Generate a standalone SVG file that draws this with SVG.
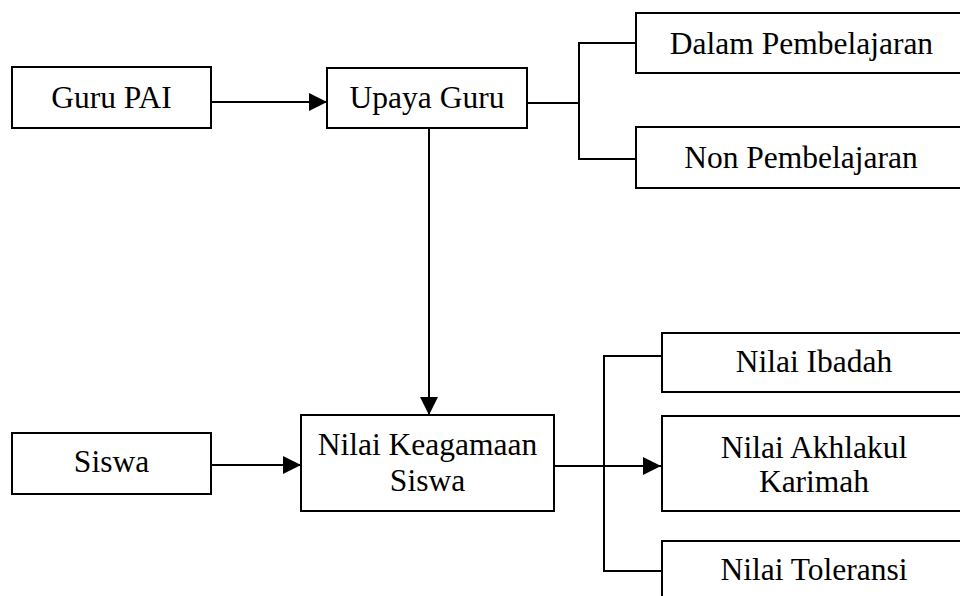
<svg xmlns="http://www.w3.org/2000/svg" width="960" height="596" viewBox="0 0 960 596">
<style>
.box{fill:#fff;stroke:#000;stroke-width:2}
.t{font-family:'Liberation Serif', 'Times New Roman', serif;font-size:31.5px;fill:#000;text-anchor:middle}
.c{fill:none;stroke:#000;stroke-width:2}
</style>
<defs>
<marker id="ah" markerUnits="userSpaceOnUse" markerWidth="18" markerHeight="18" viewBox="0 0 16 16" refX="16" refY="8" orient="auto">
<path d="M0,0 L16,8 L0,16 Z" fill="#000"/>
</marker>
</defs>
<rect width="960" height="596" fill="#fff"/>
<g id="connectors">
<line class="c" x1="211" y1="102" x2="327" y2="102" marker-end="url(#ah)"/>
<polyline class="c" points="527,103 579,103"/>
<polyline class="c" points="636,43 579,43 579,159 636,159"/>
<line class="c" x1="429" y1="128" x2="429" y2="415" marker-end="url(#ah)"/>
<line class="c" x1="211" y1="465" x2="301" y2="465" marker-end="url(#ah)"/>
<line class="c" x1="554" y1="466" x2="661" y2="466" marker-end="url(#ah)"/>
<polyline class="c" points="662,356 604,356 604,571 662,571"/>
</g>
<g id="guru-pai"><rect class="box" x="12" y="67" width="199" height="61"/><text class="t" x="111.5" y="108">Guru PAI</text></g>
<g id="upaya-guru"><rect class="box" x="327" y="68" width="200" height="60"/><text class="t" x="427" y="108">Upaya Guru</text></g>
<g id="dalam"><rect class="box" x="636" y="13" width="332" height="60"/><text class="t" x="801.5" y="54">Dalam Pembelajaran</text></g>
<g id="non"><rect class="box" x="636" y="127" width="332" height="61"/><text class="t" x="801" y="168">Non Pembelajaran</text></g>
<g id="siswa"><rect class="box" x="12" y="433" width="199" height="61"/><text class="t" x="111.5" y="472">Siswa</text></g>
<g id="nilai-keagamaan"><rect class="box" x="301" y="415" width="253" height="96"/><text class="t" x="427.5" y="455">Nilai Keagamaan</text><text class="t" x="427.5" y="491">Siswa</text></g>
<g id="ibadah"><rect class="box" x="662" y="333" width="306" height="59"/><text class="t" x="814" y="372">Nilai Ibadah</text></g>
<g id="akhlakul"><rect class="box" x="662" y="416" width="306" height="95"/><text class="t" x="814" y="458">Nilai Akhlakul</text><text class="t" x="814" y="492">Karimah</text></g>
<g id="toleransi"><rect class="box" x="662" y="541" width="306" height="70"/><text class="t" x="814" y="580">Nilai Toleransi</text></g>
</svg>
